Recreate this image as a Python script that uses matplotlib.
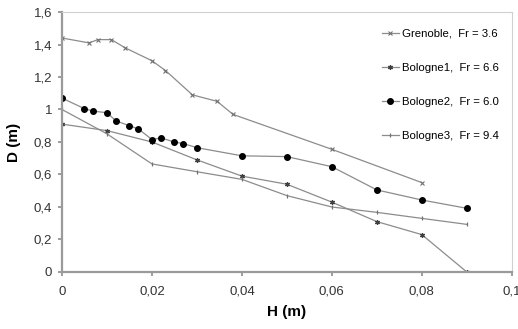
import matplotlib
matplotlib.use("Agg")
from matplotlib import pyplot as plt
from matplotlib.ticker import FuncFormatter

plt.rcParams['font.family'] = ['Liberation Sans', 'DejaVu Sans']

# Grenoble, Fr = 3.6
h_gre = [0, 0.006, 0.008, 0.011, 0.014, 0.02, 0.023, 0.029, 0.0345, 0.038, 0.06, 0.08]
d_gre = [1.44, 1.41, 1.43, 1.43, 1.38, 1.30, 1.24, 1.09, 1.05, 0.97, 0.755, 0.55]

# Bologne1, Fr = 6.6
h_bo1 = [0, 0.01, 0.02, 0.03, 0.04, 0.05, 0.06, 0.07, 0.08, 0.09]
d_bo1 = [0.91, 0.87, 0.80, 0.69, 0.59, 0.54, 0.43, 0.31, 0.23, 0.0]

# Bologne2, Fr = 6.0
h_bo2 = [0, 0.005, 0.007, 0.01, 0.012, 0.015, 0.017, 0.02, 0.022, 0.025, 0.027, 0.03,
         0.04, 0.05, 0.06, 0.07, 0.08, 0.09]
d_bo2 = [1.07, 1.005, 0.99, 0.98, 0.93, 0.90, 0.88, 0.815, 0.825, 0.80, 0.79, 0.765,
         0.715, 0.71, 0.648, 0.505, 0.443, 0.392]

# Bologne3, Fr = 9.4
h_bo3 = [0, 0.01, 0.02, 0.03, 0.04, 0.05, 0.06, 0.07, 0.08, 0.09]
d_bo3 = [1.0, 0.85, 0.665, 0.617, 0.57, 0.47, 0.40, 0.367, 0.33, 0.293]

labels = ["Grenoble,  Fr = 3.6", "Bologne1,  Fr = 6.6",
          "Bologne2,  Fr = 6.0", "Bologne3,  Fr = 9.4"]

line_col = "#8c8c8c"

fig = plt.figure(figsize=(5.18, 3.29), dpi=100)
ax = fig.add_axes([0.1197, 0.1733, 0.8683, 0.7902])

ax.plot(h_gre, d_gre, color=line_col, lw=0.9, marker="x", ms=3, mew=0.8,
        mec="#707070", label=labels[0])
ax.plot(h_bo1, d_bo1, color=line_col, lw=0.9, marker=(6, 2, 0), ms=3.5, mew=0.9,
        mec="#404040", label=labels[1])
ax.plot(h_bo2, d_bo2, color=line_col, lw=0.9, marker="o", ms=4, mfc="black",
        mec="black", label=labels[2])
ax.plot(h_bo3, d_bo3, color=line_col, lw=0.9, marker="|", ms=3.5, mew=0.9,
        mec="#707070", label=labels[3])

ax.set_xlim(0, 0.1)
ax.set_ylim(0, 1.6)
ax.set_xticks([0, 0.02, 0.04, 0.06, 0.08, 0.1])
ax.set_yticks([0, 0.2, 0.4, 0.6, 0.8, 1.0, 1.2, 1.4, 1.6])

def comma_fmt(v, pos):
    s = "%g" % round(v, 4)
    return s.replace(".", ",")

ax.xaxis.set_major_formatter(FuncFormatter(comma_fmt))
ax.yaxis.set_major_formatter(FuncFormatter(comma_fmt))
ax.tick_params(direction="out", length=3, width=1.2, color="#8c8c8c",
               labelsize=9.5, labelcolor="#333333")
ax.tick_params(axis="x", pad=7)
ax.tick_params(axis="y", pad=4)

for side in ["left", "bottom"]:
    ax.spines[side].set_color("#9a9a9a")
    ax.spines[side].set_linewidth(1.6)
for side in ["top", "right"]:
    ax.spines[side].set_color("#d0d0d0")
    ax.spines[side].set_linewidth(0.8)

ax.set_xlabel("H (m)", fontsize=11, fontweight="bold", labelpad=5)
ax.set_ylabel("D (m)", fontsize=11, fontweight="bold", labelpad=9)

ax.legend(loc="upper right", bbox_to_anchor=(0.995, 0.975), frameon=False,
          fontsize=8.2, labelspacing=2.1, handlelength=1.5, handletextpad=0.3)

plt.savefig("out.png", dpi=100)
